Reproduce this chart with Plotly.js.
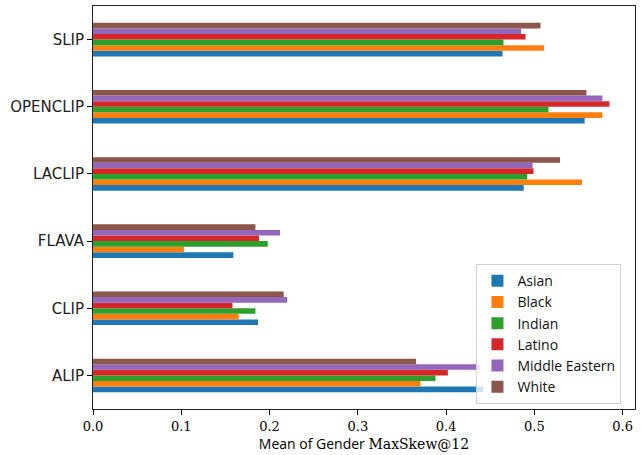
<!DOCTYPE html>
<html>
<head>
<meta charset="utf-8">
<script src="https://cdn.plot.ly/plotly-3.0.1.min.js"></script>
<style>html,body{margin:0;padding:0;background:#fff;}#chart{width:643px;height:455px;}</style>
</head>
<body>
<div id="chart"></div>
<script>
var models = ["ALIP", "CLIP", "FLAVA", "LACLIP", "OPENCLIP", "SLIP"];
var groups = ["Asian", "Black", "Indian", "Latino", "Middle Eastern", "White"];
var asian = [0.442, 0.187, 0.159, 0.488, 0.557, 0.464];
var black = [0.371, 0.165, 0.103, 0.554, 0.577, 0.511];
var indian = [0.388, 0.184, 0.198, 0.492, 0.516, 0.465];
var latino = [0.402, 0.158, 0.188, 0.499, 0.585, 0.490];
var middleEastern = [0.438, 0.220, 0.212, 0.498, 0.577, 0.485];
var white = [0.366, 0.216, 0.184, 0.529, 0.559, 0.507];
var xTicks = [0.0, 0.1, 0.2, 0.3, 0.4, 0.5, 0.6];
var xTickText = ["0.0", "0.1", "0.2", "0.3", "0.4", "0.5", "0.6"];

var series = [asian, black, indian, latino, middleEastern, white];
var colors = ["#1f77b4", "#ff7f0e", "#2ca02c", "#d62728", "#9467bd", "#8c564b"];

var traces = groups.map(function (g, i) {
  return {
    type: "bar",
    orientation: "h",
    name: g,
    y: models,
    x: series[i],
    marker: {color: colors[i], line: {width: 0}},
    hoverinfo: "x+name"
  };
});

var layout = {
  width: 643,
  height: 455,
  margin: {l: 93, r: 8, t: 6, b: 46},
  paper_bgcolor: "#fff",
  plot_bgcolor: "#fff",
  barmode: "group",
  bargap: 0.5,
  bargroupgap: 0,
  showlegend: true,
  legend: {
    x: 0.975, xanchor: "right",
    y: 0.012, yanchor: "bottom",
    bgcolor: "rgba(255,255,255,0.8)",
    bordercolor: "#d0d0d0",
    borderwidth: 1,
    traceorder: "normal",
    font: {family: "Open Sans, DejaVu Sans, sans-serif", size: 14, color: "#111"},
    tracegroupgap: 0,
    itemwidth: 30
  },
  xaxis: {
    range: [0, 0.614],
    tickvals: xTicks,
    ticktext: xTickText,
    ticks: "outside",
    ticklen: 5,
    tickwidth: 1,
    tickcolor: "#000",
    showgrid: false,
    zeroline: false,
    showline: true,
    linecolor: "#222",
    linewidth: 1,
    mirror: true,
    tickfont: {family: "DejaVu Serif, Liberation Serif, serif", size: 13, color: "#000"},
    title: {
      text: '<span style="font-family:Open Sans, DejaVu Sans, sans-serif">Mean of Gender</span> <span style="font-family:DejaVu Serif, serif">MaxSkew@12</span>',
      font: {family: "Open Sans, DejaVu Sans, sans-serif", size: 14, color: "#000"},
      standoff: 4
    },
    automargin: false
  },
  yaxis: {
    type: "category",
    categoryorder: "array",
    categoryarray: models,
    range: [-0.5, 5.5],
    ticks: "outside",
    ticklen: 5,
    tickwidth: 1,
    tickcolor: "#000",
    showgrid: false,
    zeroline: false,
    showline: true,
    linecolor: "#222",
    linewidth: 1,
    mirror: true,
    tickfont: {family: "DejaVu Sans, sans-serif", size: 15, color: "#222"},
    automargin: false
  }
};

Plotly.newPlot("chart", traces, layout, {displayModeBar: false, staticPlot: true});
</script>
</body>
</html>
